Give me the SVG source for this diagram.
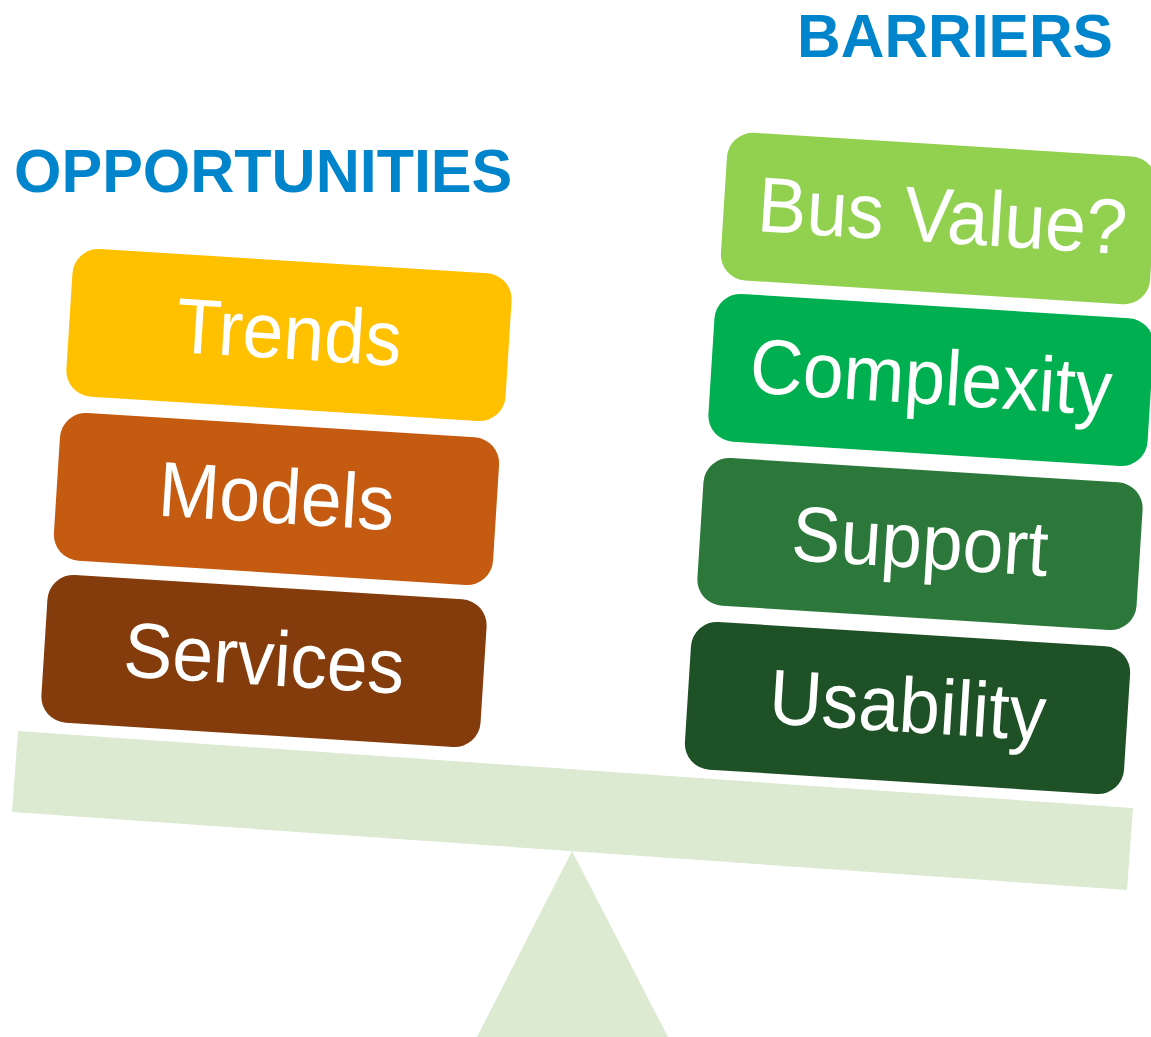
<svg xmlns="http://www.w3.org/2000/svg" width="1151" height="1037" viewBox="0 0 1151 1037">
<style>
.box{stroke:none}
.lbl{font-family:"Liberation Sans",Arial,sans-serif;font-size:78px;fill:#FFFFFF;text-anchor:middle}
.hdr{font-family:"Liberation Sans",Arial,sans-serif;font-weight:bold;fill:#0084CB}
.beam{fill:#DCEAD2}
</style>
<rect width="1151" height="1037" fill="#FFFFFF"/>
<g id="seesaw">
<polygon class="beam" points="572,851 668,1037 477,1037"/>
<polygon class="beam" points="18,731 1133,808 1127,890 12,812"/>
</g>
<text id="opportunities" class="hdr" x="14" y="192" font-size="61">OPPORTUNITIES</text>
<text id="barriers" class="hdr" x="797" y="57" font-size="60.5">BARRIERS</text>
<g id="trends" transform="translate(289,335) rotate(3.6)">
<rect class="box" x="-220" y="-74" width="440" height="148" rx="26" fill="#FFC000"/>
<text class="lbl" transform="scale(0.94,1)" x="0" y="24">Trends</text>
</g>
<g id="models" transform="translate(276.5,499) rotate(3.6)">
<rect class="box" x="-220" y="-74" width="440" height="148" rx="26" fill="#C55A11"/>
<text class="lbl" transform="scale(0.94,1)" x="0" y="24">Models</text>
</g>
<g id="services" transform="translate(264,661) rotate(3.6)">
<rect class="box" x="-220" y="-74" width="440" height="148" rx="26" fill="#843C0C"/>
<text class="lbl" transform="scale(0.94,1)" x="0" y="24">Services</text>
</g>
<g id="busvalue" transform="translate(938.5,218.5) rotate(3.6)">
<rect class="box" x="-215" y="-74" width="430" height="148" rx="26" fill="#92D050"/>
<text class="lbl" transform="scale(0.94,1)" x="4" y="24">Bus Value?</text>
</g>
<g id="complexity" transform="translate(931,380) rotate(3.6)">
<rect class="box" x="-220" y="-74" width="440" height="148" rx="26" fill="#00B050"/>
<text class="lbl" transform="scale(0.94,1)" x="0" y="24">Complexity</text>
</g>
<g id="support" transform="translate(920,544) rotate(3.6)">
<rect class="box" x="-220" y="-74" width="440" height="148" rx="26" fill="#2C783A"/>
<text class="lbl" transform="scale(0.94,1)" x="0" y="24">Support</text>
</g>
<g id="usability" transform="translate(907.5,708) rotate(3.6)">
<rect class="box" x="-220" y="-74" width="440" height="148" rx="26" fill="#1F5127"/>
<text class="lbl" transform="scale(0.94,1)" x="0" y="24">Usability</text>
</g>
<g id="connectors"></g>
</svg>
